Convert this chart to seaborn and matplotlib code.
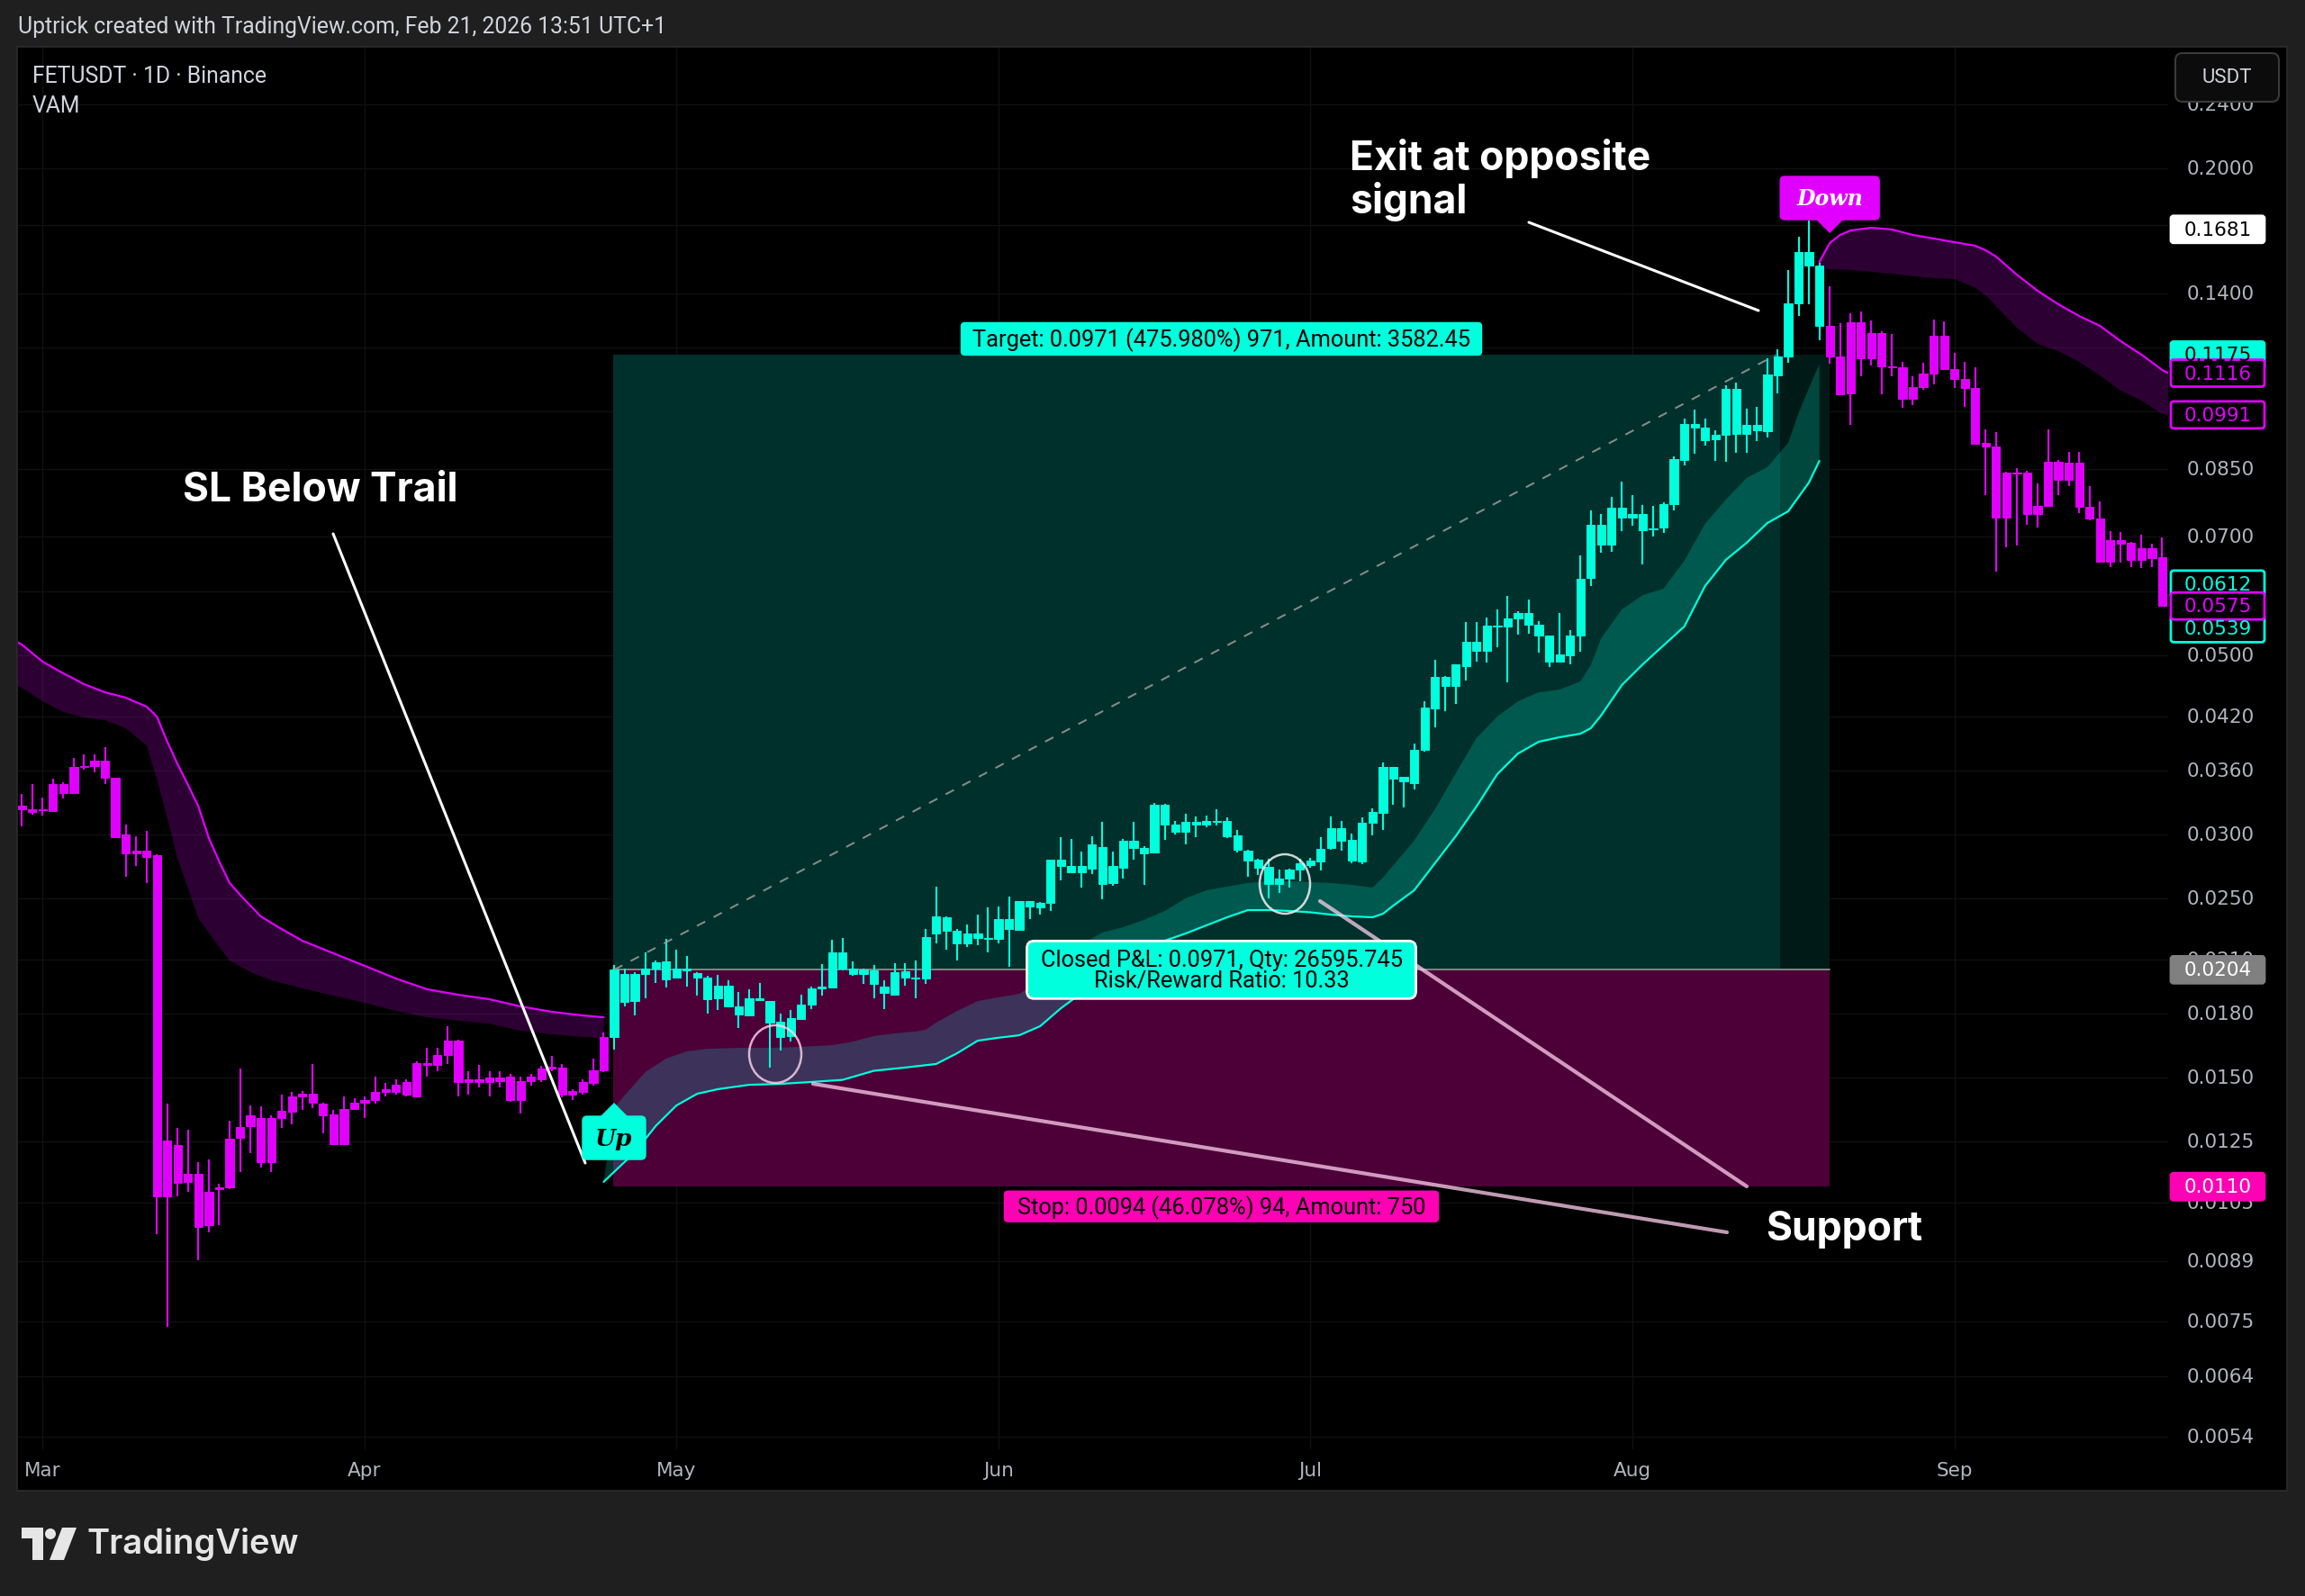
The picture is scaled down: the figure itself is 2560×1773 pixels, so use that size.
import numpy as np
import pandas as pd
import matplotlib
matplotlib.use("Agg")
import matplotlib.pyplot as plt
import seaborn as sns
from matplotlib.patches import Rectangle, FancyBboxPatch, Polygon, Ellipse, Circle

W, H = 2560, 1774

# ---------------- data (FETUSDT 1D, Binance, 2020) ----------------
base_date = "2020-03-01"   # day 0
first_day = -2             # first candle: 2020-02-28

opens = [
    .03256, .03222, .03214, .03206, .03462, .03375, .03635, .03645, .03701, .03525,
    .02999, .02842, .02864, .02828, .01070, .01238, .01115, .01141, .00986, .01098,
    .01098, .01264, .01307, .01337, .01179, .01337, .01362, .01422, .01433, .01393,
    .01351, .01242, .01372, .01397, .01408, .01441, .01441, .01482, .01422, .01564,
    .01556, .01600, .01667, .01482, .01493, .01482, .01501, .01505, .01408, .01486,
    .01493, .01540, .01544, .01430, .01441, .01478, .01532, .01685, .02016, .01866,
    .02016, .02047, .02089, .01995, .02047, .02021, .01995, .01881, .01949, .01838,
    .01791, .01881, .01866, .01760, .01689, .01773, .01847, .01935, .01939, .02143,
    .02047, .02016, .02036, .01944, .01900, .02031, .01995, .01990, .02262, .02369,
    .02280, .02199, .02262, .02233, .02228, .02357, .02286, .02481, .02437, .02468,
    .02791, .02742, .02693, .02721, .02894, .02612, .02728, .02946, .02886, .02849,
    .03264, .03085, .03023, .03109, .03085, .03117, .03117, .02991, .02864, .02791,
    .02736, .02605, .02645, .02714, .02749, .02777, .02886, .03053, .02953, .02777,
    .03101, .03189, .03635, .03489, .03471, .03817, .04294, .04698, .04579, .04844,
    .05192, .05061, .05437, .05423, .05549, .05636, .05451, .05286, .04907, .04996,
    .05286, .06228, .07246, .06848, .07605, .07394, .07472, .07153, .07190, .07686,
    .08715, .09656, .09558, .09243, .09364, .10671, .09388, .09631, .09460, .11088,
    .11700, .13614, .15758, .15163, .12771, .11713, .10535, .12900, .11645, .12510,
    .11371, .11342, .10375, .10727, .11144, .12414, .11285, .10977, .10699, .09151,
    .09059, .07394, .08407, .08407, .07472, .07646, .08671, .08237, .08649, .07625,
    .07375, .06522, .06937, .06883, .06557, .06778, .06607]
highs = [
    .03366, .03462, .03332, .03516, .03480, .03730, .03768, .03768, .03846, .03525,
    .03085, .02984, .03030, .02835, .01393, .01300, .01294, .01179, .01189, .01109,
    .01327, .01540, .01386, .01383, .01348, .01430, .01441, .01444, .01560, .01397,
    .01369, .01422, .01415, .01422, .01505, .01478, .01493, .01493, .01572, .01633,
    .01633, .01737, .01671, .01528, .01556, .01528, .01528, .01516, .01505, .01516,
    .01552, .01596, .01560, .01452, .01493, .01584, .01706, .02068, .02047, .02026,
    .02143, .02095, .02228, .02160, .02122, .02026, .02005, .02011, .01980, .01915,
    .01930, .01965, .01866, .01801, .01817, .01900, .01944, .02073, .02222, .02233,
    .02089, .02047, .02068, .01980, .02079, .02079, .02095, .02291, .02585, .02375,
    .02291, .02321, .02387, .02437, .02443, .02513, .02481, .02481, .02475, .02791,
    .02976, .02961, .02857, .02984, .03109, .02857, .02961, .03109, .02901, .03281,
    .03273, .03117, .03181, .03157, .03165, .03222, .03149, .03038, .02871, .02798,
    .02798, .02714, .02721, .02798, .02806, .02976, .03157, .03117, .03007, .03149,
    .03231, .03682, .03635, .03534, .03885, .04383, .04932, .04710, .04869, .05493,
    .05493, .05564, .05694, .05917, .05665, .05857, .05507, .05286, .05636, .05368,
    .06641, .07548, .07472, .07845, .08193, .07885, .07666, .07646, .07725, .08804,
    .09807, .10057, .09807, .09484, .10779, .10862, .10083, .10135, .11645, .11946,
    .14962, .16459, .17239, .15280, .14294, .12868, .13236, .13304, .12966, .12574,
    .12478, .11526, .11061, .11497, .13001, .12933, .11825, .11526, .11342, .09508,
    .09436, .08428, .08516, .08450, .08152, .09508, .08715, .08919, .08919, .08090,
    .07744, .07117, .07099, .06901, .07044, .06866, .06990]
lows = [
    .03069, .03173, .03165, .03198, .03323, .03366, .03607, .03580, .03462, .02969,
    .02659, .02742, .02612, .009607, .007378, .01070, .01084, .008918, .009656, .00986,
    .01092, .01147, .01210, .01161, .01147, .01300, .01314, .01369, .01376, .01280,
    .01242, .01238, .01369, .01337, .01393, .01422, .01430, .01422, .01418, .01505,
    .01528, .01560, .01422, .01430, .01459, .01422, .01459, .01400, .01354, .01467,
    .01482, .01528, .01418, .01408, .01430, .01467, .01524, .01625, .01838, .01791,
    .01881, .01965, .01939, .01995, .01944, .01895, .01801, .01817, .01833, .01728,
    .01787, .01866, .01544, .01621, .01663, .01769, .01822, .01895, .01935, .02036,
    .02005, .01960, .01881, .01822, .01895, .01949, .01881, .01960, .02199, .02160,
    .02095, .02177, .02188, .02143, .02199, .02057, .02280, .02357, .02387, .02412,
    .02632, .02693, .02578, .02679, .02494, .02592, .02645, .02791, .02598, .02842,
    .02953, .02999, .02916, .02976, .03061, .03077, .02969, .02849, .02659, .02672,
    .02500, .02539, .02578, .02625, .02728, .02707, .02871, .02864, .02763, .02756,
    .02991, .03038, .03264, .03239, .03409, .03797, .04069, .04262, .04350, .04650,
    .04907, .04895, .05112, .04626, .05299, .05313, .05034, .04832, .04894, .04869,
    .05046, .06086, .06692, .06709, .07117, .07228, .06473, .07008, .07080, .07548,
    .08581, .08872, .09078, .08693, .08671, .08896, .08896, .09197, .09290, .10535,
    .11497, .13135, .13579, .12254, .11469, .10509, .09631, .11061, .11400, .10509,
    .11061, .10109, .10190, .10644, .10808, .11285, .10699, .10135, .09105, .07885,
    .06340, .06795, .06831, .07246, .07190, .07646, .07885, .08090, .07491, .07339,
    .06506, .06423, .06506, .06423, .06407, .06423, .05740]
closes = [
    .03222, .03198, .03222, .03462, .03375, .03635, .03645, .03701, .03525, .02976,
    .02842, .02864, .02813, .01070, .01254, .01112, .01141, .009807, .01084, .01092,
    .01261, .01303, .01348, .01179, .01337, .01365, .01422, .01433, .01397, .01348,
    .01242, .01372, .01397, .01408, .01441, .01452, .01470, .01430, .01564, .01556,
    .01600, .01667, .01482, .01493, .01482, .01501, .01486, .01408, .01486, .01505,
    .01540, .01548, .01430, .01444, .01482, .01532, .01685, .02040, .01862, .02016,
    .02047, .02084, .01985, .02047, .02036, .01995, .01876, .01949, .01838, .01796,
    .01881, .01871, .01755, .01685, .01778, .01847, .01935, .01944, .02143, .02047,
    .02016, .02042, .01960, .01910, .02026, .01995, .01990, .02239, .02375, .02280,
    .02199, .02262, .02233, .02228, .02357, .02291, .02481, .02443, .02468, .02791,
    .02742, .02693, .02742, .02916, .02605, .02742, .02946, .02886, .02842, .03264,
    .03085, .03023, .03109, .03085, .03117, .03109, .02984, .02871, .02784, .02728,
    .02605, .02645, .02714, .02763, .02784, .02879, .03053, .02946, .02784, .03101,
    .03198, .03635, .03516, .03534, .03817, .04306, .04698, .04579, .04869, .05192,
    .05061, .05437, .05423, .05549, .05636, .05451, .05286, .04907, .05008, .05286,
    .06213, .07246, .06848, .07605, .07394, .07472, .07135, .07172, .07686, .08737,
    .09656, .09558, .09220, .09364, .10671, .09388, .09631, .09484, .11116, .11700,
    .13614, .15758, .15163, .12771, .11713, .10509, .12900, .11645, .12510, .11371,
    .11342, .10375, .10727, .11144, .12414, .11285, .10977, .10699, .09128, .09059,
    .07394, .08407, .08386, .07472, .07646, .08671, .08237, .08649, .07625, .07375,
    .06522, .06937, .06866, .06557, .06778, .06590, .05750]

signal_up_day = 55      # 2020-04-25  "Up"
signal_down_day = 172   # 2020-08-20  "Down"

# VAM trail bands (day offsets from base_date)
band_a_upper_days = [-3, -2, 0, 2, 4, 6, 8, 10, 11, 12, 13, 14, 15, 16, 17, 18, 19, 20, 21, 23,
                     25, 28, 31, 34, 37, 40, 43, 46, 49, 52, 54]
band_a_upper = [.05232, .05152, .04907, .04746, .04602, .04497, .04429, .04317, .04197, .03906,
                .03663, .03454, .03248, .02969, .02777, .02612, .02526, .02449, .02375, .02291,
                .02216, .02138, .02063, .01990, .01930, .01900, .01876, .01838, .01810, .01791, .01782]
band_a_lower_days = [-3, -2, 0, 2, 4, 6, 8, 10, 11, 12, 13, 14, 15, 16, 17, 18, 20, 22, 25, 28,
                     31, 34, 37, 40, 43, 46, 49, 52, 54]
band_a_lower = [.04614, .04556, .04383, .04251, .04186, .04154, .04059, .03866, .03516, .03141,
                .02798, .02572, .02363, .02268, .02177, .02095, .02026, .01980, .01935, .01895,
                .01857, .01814, .01782, .01764, .01750, .01715, .01697, .01685, .01681]

up_line_days = [54, 55, 57, 59, 61, 63, 65, 68, 71, 74, 77, 80, 83, 86, 88, 90, 92, 94, 96, 98,
                100, 102, 104, 106, 108, 110, 112, 114, 116, 118, 120, 122, 124, 126, 128, 129, 130,
                132, 134, 136, 138, 140, 142, 144, 146, 148, 149, 150, 152, 154, 156, 158, 160, 162,
                164, 166, 168, 170, 171]
up_line = [.01115, .01147, .01213, .01307, .01386, .01433, .01452, .01470, .01474, .01482,
           .01491, .01530, .01544, .01560, .01608, .01667, .01681, .01693, .01737, .01828,
           .01910, .01965, .02031, .02149, .02216, .02262, .02315, .02369, .02418, .02418,
           .02412, .02403, .02387, .02375, .02369, .02393, .02449, .02558, .02763, .02984,
           .03248, .03561, .03777, .03906, .03956, .03996, .04059, .04210, .04591, .04869,
           .05139, .05423, .06086, .06557, .06883, .07283, .07529, .08173, .08693]
up_edge_days = [55, 56, 57, 58, 60, 62, 64, 67, 70, 73, 76, 78, 80, 82, 84, 85, 86, 88, 90, 92,
                94, 96, 98, 100, 102, 104, 106, 108, 110, 112, 114, 116, 118, 120, 122, 124, 126,
                128, 129, 130, 132, 134, 136, 138, 140, 142, 144, 146, 148, 149, 150, 152, 154, 156,
                158, 160, 162, 164, 166, 168, 169, 170, 171]
up_edge = [.01376, .01426, .01474, .01524, .01584, .01617, .01629, .01633, .01633, .01638,
           .01646, .01663, .01689, .01702, .01711, .01720, .01755, .01814, .01866, .01886,
           .01905, .01980, .02095, .02194, .02268, .02303, .02351, .02412, .02500, .02558,
           .02585, .02612, .02625, .02625, .02618, .02612, .02598, .02578, .02652, .02749,
           .02946, .03222, .03570, .03946, .04197, .04383, .04497, .04532, .04637, .04857,
           .05245, .05694, .05932, .06038, .06540, .07264, .07783, .08279, .08538, .09151,
           .09957, .10699, .11455]

band_b_upper_days = [171, 172, 173, 174, 176, 178, 180, 182, 184, 186, 187, 188, 190, 192, 194,
                     196, 198, 200, 202, 204, 204.6]
band_b_upper = [.15320, .16167, .16544, .16758, .16888, .16801, .16544, .16377, .16208, .16044,
                .15838, .15558, .14776, .14113, .13580, .13135, .12771, .12225, .11765, .11262, .1116]
band_b_lower_days = [171, 172, 174, 176, 178, 180, 182, 184, 186, 187, 188, 190, 192, 194, 196,
                     198, 200, 202, 204, 204.6]
band_b_lower = [.14970, .15008, .14970, .14894, .14818, .14704, .14628, .14591, .14236, .13931,
                .13510, .12704, .12132, .11885, .11526, .11088, .10617, .10324, .09932, .0991]

# Long position tool
entry_price = 0.0204
target_price = 0.1175
stop_price = 0.0110
trade_start = 54.9
trade_target_hit = 167.2
trade_end = 172.0
exit_line_end = 166.8

# visible price-scale ticks (others are hidden behind the price tags)
price_ticks = [0.24, 0.20, 0.14, 0.085, 0.07, 0.05, 0.042, 0.036,
               0.03, 0.025, 0.021, 0.018, 0.015, 0.0125, 0.0105, 0.0089, 0.0075, 0.0064, 0.0054]
grid_ticks = [0.24, 0.20, 0.17, 0.14, 0.12, 0.10, 0.085, 0.07, 0.06, 0.05, 0.042, 0.036,
              0.03, 0.025, 0.021, 0.018, 0.015, 0.0125, 0.0105, 0.0089, 0.0075, 0.0064, 0.0054]
month_labels = ["Mar", "Apr", "May", "Jun", "Jul", "Aug", "Sep"]
month_days = [0, 31, 61, 92, 122, 153, 184]

# price-scale tags: value, face, edge, text
CYAN = "#00ffdd"
MAG = "#e100ff"
price_tags = [
    (0.1681, "#ffffff", "#ffffff", "#000000"),
    (0.1175, CYAN, CYAN, "#000000"),
    (0.1116, "#000000", MAG, MAG),
    (0.0991, "#000000", MAG, MAG),
    (0.0612, "#000000", CYAN, CYAN),
    (0.0539, "#000000", CYAN, CYAN),
    (0.0575, "#000000", MAG, MAG),
    (0.0204, "#808080", "#808080", "#ffffff"),
    (0.0110, "#ff00b4", "#ff00b4", "#ffffff"),
]

target_text = "Target: 0.0971 (475.980%) 971, Amount: 3582.45"
stop_text = "Stop: 0.0094 (46.078%) 94, Amount: 750"
pnl_text = "Closed P&L: 0.0971, Qty: 26595.745\nRisk/Reward Ratio: 10.33"

# ---------------- style ----------------
sns.set_theme(style="dark")
plt.rcParams["font.family"] = ["Roboto", "DejaVu Sans"]
plt.rcParams["axes.unicode_minus"] = False

AXF = ["DejaVu Sans"]
LBLF = ["Roboto", "DejaVu Sans"]
BOLDF = ["Inter", "DejaVu Sans"]

fig = plt.figure(figsize=(W / 100, H / 100), dpi=100)
fig.patch.set_facecolor("#1f1f1f")

# background panel (pixel coordinates, y down)
bg = fig.add_axes([0, 0, 1, 1], zorder=-5)
bg.set_xlim(0, W); bg.set_ylim(H, 0); bg.axis("off")
bg.add_patch(Rectangle((19, 53), 2540 - 19, 1657 - 53, facecolor="#000000",
                       edgecolor="#2c2c2c", lw=1.2))

# main price axes
ax = fig.add_axes([20 / W, 1 - 1611 / H, (2408 - 20) / W, (1611 - 54) / H], zorder=1)
ax.set_yscale("log")
ax.set_xlim(-2.366, 204.567)
ax.set_ylim(0.0052058, 0.2820)

for v in grid_ticks:
    ax.axhline(v, color="#101010", lw=1.0, zorder=0.5)
for d in month_days:
    ax.axvline(d, color="#101010", lw=1.0, zorder=0.5)

# position tool zones
ax.add_patch(Rectangle((trade_start, entry_price), trade_target_hit - trade_start,
                       target_price - entry_price, facecolor="#00302b", edgecolor="none", zorder=1))
ax.add_patch(Rectangle((trade_target_hit, entry_price), trade_end - trade_target_hit,
                       target_price - entry_price, facecolor="#001b17", edgecolor="none", zorder=1))
ax.add_patch(Rectangle((trade_start, stop_price), trade_end - trade_start,
                       entry_price - stop_price, facecolor="#4d0038", edgecolor="none", zorder=1))
ax.plot([trade_start, trade_end], [entry_price, entry_price], color="#8c8c8c", lw=1.3, zorder=1.5)

# bands
ax.fill(np.r_[band_a_upper_days, band_a_lower_days[::-1]],
        np.r_[band_a_upper, band_a_lower[::-1]], color=MAG, alpha=0.2, lw=0, zorder=2)
ax.fill(np.r_[band_b_upper_days, band_b_lower_days[::-1]],
        np.r_[band_b_upper, band_b_lower[::-1]], color=MAG, alpha=0.2, lw=0, zorder=2)
ax.fill(np.r_[up_edge_days, up_line_days[::-1]],
        np.r_[up_edge, up_line[::-1]], color="#00ffdf", alpha=0.2, lw=0, zorder=2)

sns.lineplot(x=band_a_upper_days, y=band_a_upper, ax=ax, color=MAG, lw=1.6, zorder=3, legend=False)
sns.lineplot(x=band_b_upper_days, y=band_b_upper, ax=ax, color=MAG, lw=1.6, zorder=3, legend=False)
sns.lineplot(x=up_line_days, y=up_line, ax=ax, color=CYAN, lw=1.6, zorder=3, legend=False)

# candles
days = np.arange(first_day, first_day + len(opens))
o = np.array(opens); h = np.array(highs); l = np.array(lows); c = np.array(closes)
uptrend = (days >= signal_up_day) & (days < signal_down_day)
cols = np.where(uptrend, CYAN, MAG)
ax.vlines(days, l, h, colors=cols, lw=1.5, zorder=5)
ax.bar(days, np.abs(c - o), bottom=np.minimum(o, c), width=0.8, color=cols,
       edgecolor=cols, linewidth=0.7, zorder=6)

# entry -> exit dashed line
ax.plot([signal_up_day, exit_line_end], [entry_price, target_price], color="#9a9a9a",
        lw=1.5, ls=(0, (5, 5)), alpha=0.85, zorder=7)

ax.set_xlim(-2.366, 204.567)
ax.set_ylim(0.0052058, 0.2820)
ax.axis("off")

# ---------------- overlay in pixel coordinates ----------------
ov = fig.add_axes([0, 0, 1, 1], zorder=10)
ov.set_xlim(0, W); ov.set_ylim(H, 0); ov.axis("off")


def to_px(day, price):
    X, Y = ax.transData.transform((day, price))
    return X, H - Y


def rbox(x0, y0, w, hgt, fc, ec, lw=1.5, r=4, z=5):
    ov.add_patch(FancyBboxPatch((x0, y0), w, hgt, boxstyle=f"round,pad=0,rounding_size={r}",
                                fc=fc, ec=ec, lw=lw, zorder=z))


# header
ov.text(20, 30, "Uptrick created with TradingView.com, Feb 21, 2026 13:51 UTC+1", ha="left",
        va="center", fontsize=17.8, color="#d1d4dc", family=LBLF)
ov.text(36, 85, "FETUSDT · 1D · Binance", ha="left", va="center", fontsize=17.8,
        color="#d1d4dc", family=LBLF)
ov.text(36, 118, "VAM", ha="left", va="center", fontsize=17.8, color="#d1d4dc", family=LBLF)

# price scale ticks
for v in price_ticks:
    _, yv = to_px(0, v)
    ov.text(2466, yv, f"{v:.4f}", ha="center", va="center", fontsize=15.5,
            color="#b2b5be", family=AXF, zorder=2)

# USDT button
rbox(2416, 60, 115, 54, "#0c0c0c", "#3a3a3a", lw=1.5, r=8, z=8)
ov.text(2473, 86, "USDT", ha="center", va="center", fontsize=16, color="#d1d4dc",
        family=LBLF, zorder=9)

# price tags
for v, fc, ec, tc in price_tags:
    _, yv = to_px(0, v)
    rbox(2411, yv - 15, 104, 30, fc, ec, lw=2, r=3, z=6)
    ov.text(2463, yv, f"{v:.4f}", ha="center", va="center", fontsize=15.5, color=tc,
            family=AXF, zorder=7)

# month labels
for d, m in zip(month_days, month_labels):
    xm, _ = to_px(d, 0.01)
    ov.text(xm, 1634, m, ha="center", va="center", fontsize=15.5, color="#b2b5be", family=AXF)

# position tool labels
cx, _ = to_px((trade_start + trade_end) / 2, entry_price)
_, y_t = to_px(0, target_price)
_, y_s = to_px(0, stop_price)
_, y_e = to_px(0, entry_price)
rbox(cx - 289, y_t - 36, 578, 36, CYAN, CYAN, lw=1, r=4, z=5)
ov.text(cx, y_t - 18, target_text, ha="center", va="center", fontsize=18.3, color="#000000",
        family=LBLF, zorder=6)
rbox(cx - 241, y_s + 5, 482, 34, "#ff00b4", "#ff00b4", lw=1, r=4, z=5)
ov.text(cx, y_s + 22, stop_text, ha="center", va="center", fontsize=18.3, color="#000000",
        family=LBLF, zorder=6)

# annotation lines & circles (under P&L label)
ov.plot([370, 650], [594, 1293], color="#ffffff", lw=2.2, solid_capstyle="round", zorder=3)
ov.plot([1698, 1953], [248, 346], color="#ffffff", lw=2.2, solid_capstyle="round", zorder=3)
ov.plot([903, 1918], [1205, 1370], color="#ffd0ee", alpha=0.75, lw=3.0,
        solid_capstyle="round", zorder=3)
ov.plot([1466, 1940], [1002, 1319], color="#ffd0ee", alpha=0.75, lw=3.0,
        solid_capstyle="round", zorder=3)
ov.add_patch(Ellipse((861, 1172), 58, 64, fill=False, ec="#ffd8f0", alpha=0.8, lw=1.8, zorder=3))
ov.add_patch(Ellipse((1427, 983), 56, 66, fill=False, ec="#ffffff", alpha=0.8, lw=1.8, zorder=3))

rbox(cx - 216, y_e - 32, 432, 64, CYAN, "#ffffff", lw=2, r=8, z=5)
ov.text(cx, y_e, pnl_text, ha="center", va="center", fontsize=18.3, color="#000000",
        family=LBLF, linespacing=0.95, zorder=6)

# signal labels
ux, uy = to_px(signal_up_day, lows[signal_up_day - first_day])
uy += 59
ov.add_patch(Polygon([[ux - 16, uy + 16], [ux, uy], [ux + 16, uy + 16]], closed=True,
                     fc=CYAN, ec="none", zorder=5))
rbox(ux - 35, uy + 15, 70, 48, CYAN, CYAN, lw=1, r=5, z=5)
ov.text(ux, uy + 39, "Up", ha="center", va="center", fontsize=19, color="#000000",
        family=["DejaVu Serif"], style="italic", weight="bold", zorder=6)

dx, dy = to_px(signal_down_day, highs[signal_down_day - first_day])
dy -= 59
ov.add_patch(Polygon([[dx - 16, dy - 16], [dx, dy], [dx + 16, dy - 16]], closed=True,
                     fc=MAG, ec="none", zorder=5))
rbox(dx - 55, dy - 63, 110, 48, MAG, MAG, lw=1, r=5, z=5)
ov.text(dx, dy - 39, "Down", ha="center", va="center", fontsize=17, color="#ffffff",
        family=["DejaVu Serif"], style="italic", weight="bold", zorder=6)

# annotation texts
ov.text(356, 545, "SL Below Trail", ha="center", va="center", fontsize=32, color="#ffffff",
        family=BOLDF, weight="bold", zorder=6)
ov.text(1499, 176, "Exit at opposite", ha="left", va="center", fontsize=32, color="#ffffff",
        family=BOLDF, weight="bold", zorder=6)
ov.text(1499, 224, "signal", ha="left", va="center", fontsize=32, color="#ffffff",
        family=BOLDF, weight="bold", zorder=6)
ov.text(2048, 1366, "Support", ha="center", va="center", fontsize=32, color="#ffffff",
        family=BOLDF, weight="bold", zorder=6)

# footer logo
ov.add_patch(Polygon([[24, 1698], [48, 1698], [48, 1734], [36, 1734], [36, 1710], [24, 1710]],
                     closed=True, fc="#e6e6e6", ec="none"))
ov.add_patch(Circle((56, 1705), 6, fc="#e6e6e6", ec="none"))
ov.add_patch(Polygon([[69, 1698], [85, 1698], [71, 1734], [55, 1734]], closed=True,
                     fc="#e6e6e6", ec="none"))
ov.text(97, 1716, "TradingView", ha="left", va="center", fontsize=27.5, color="#e6e6e6",
        family=BOLDF, weight="semibold")

fig.savefig("out.png", dpi=100, facecolor=fig.get_facecolor())
